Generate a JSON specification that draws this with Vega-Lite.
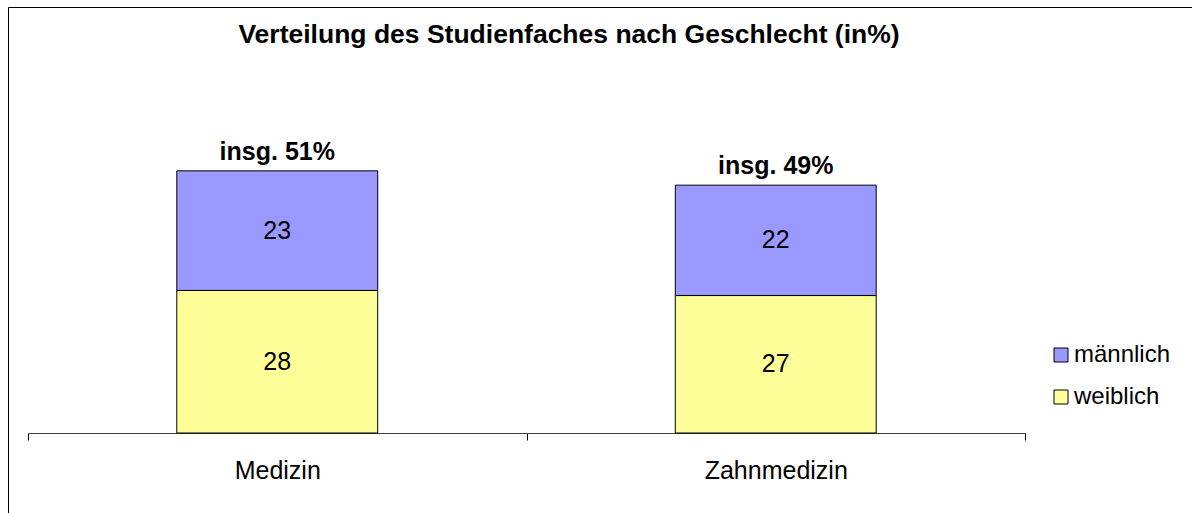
{
  "$schema": "https://vega.github.io/schema/vega-lite/v6.json",
  "width": 1194,
  "height": 516,
  "autosize": {"type": "none"},
  "padding": {"left": 8, "top": 7, "right": -10, "bottom": -10},
  "background": "white",
  "config": {
    "view": {"stroke": "#000", "strokeWidth": 1},
    "font": "Liberation Sans"
  },
  "title": {
    "text": "Verteilung des Studienfaches nach Geschlecht (in%)",
    "font": "Liberation Sans",
    "fontSize": 26.5,
    "fontWeight": "bold",
    "color": "#000",
    "anchor": "middle",
    "dx": -36,
    "offset": -62,
    "baseline": "alphabetic"
  },
  "data": {
    "values": [
      {"Fach": "Medizin", "Geschlecht": "weiblich", "Anteil": 27.9},
      {"Fach": "Medizin", "Geschlecht": "männlich", "Anteil": 23.4},
      {"Fach": "Zahnmedizin", "Geschlecht": "weiblich", "Anteil": 26.9},
      {"Fach": "Zahnmedizin", "Geschlecht": "männlich", "Anteil": 21.6}
    ]
  },
  "encoding": {
    "x": {
      "field": "Fach",
      "type": "nominal",
      "scale": {"range": [20, 1017], "paddingInner": 0, "paddingOuter": 0},
      "axis": {
        "title": null,
        "labelAngle": 0,
        "labelFont": "Liberation Sans",
        "labelFontSize": 25,
        "labelColor": "#000",
        "labelPadding": 18,
        "tickSize": 7,
        "tickColor": "#000",
        "domainColor": "#404040",
        "tickBand": "extent",
        "offset": -90,
        "grid": false
      }
    }
  },
  "layer": [
    {
      "transform": [
        {"stack": "Anteil", "groupby": ["Fach"], "sort": [{"field": "Geschlecht", "order": "descending"}], "as": ["y0", "y1"]}
      ],
      "layer": [
        {
          "mark": {"type": "bar", "stroke": "#000", "strokeWidth": 1, "width": {"band": 0.403}},
          "encoding": {
            "y": {"field": "y0", "type": "quantitative", "scale": {"domain": [0, 50], "range": [426, 170.5], "nice": false}, "axis": null},
            "y2": {"field": "y1"},
            "color": {
              "field": "Geschlecht",
              "type": "nominal",
              "scale": {"domain": ["männlich", "weiblich"], "range": ["#9999FF", "#FFFF99"]},
              "legend": {
                "title": null,
                "orient": "none",
                "legendX": 1041,
                "legendY": 336,
                "symbolType": "square",
                "symbolSize": 196,
                "symbolStrokeColor": "#000",
                "symbolStrokeWidth": 1,
                "labelFont": "Liberation Sans",
                "labelFontSize": 24,
                "labelColor": "#000",
                "labelOffset": 1,
                "rowPadding": 18
              }
            }
          }
        },
        {
          "transform": [{"calculate": "(datum.y0 + datum.y1) / 2", "as": "mid"}],
          "mark": {"type": "text", "fontSize": 25, "baseline": "middle", "color": "#000", "font": "Liberation Sans"},
          "encoding": {
            "y": {"field": "mid", "type": "quantitative", "scale": {"domain": [0, 50], "range": [426, 170.5], "nice": false}, "axis": null},
            "text": {"field": "Anteil", "type": "quantitative", "format": ".0f"}
          }
        }
      ]
    },
    {
      "transform": [
        {"aggregate": [{"op": "sum", "field": "Anteil", "as": "Summe"}], "groupby": ["Fach"]},
        {"calculate": "'insg. ' + format(datum.Summe, '.0f') + '%'", "as": "label"}
      ],
      "mark": {"type": "text", "fontSize": 25, "fontWeight": "bold", "baseline": "alphabetic", "dy": -11, "color": "#000", "font": "Liberation Sans"},
      "encoding": {
        "y": {"field": "Summe", "type": "quantitative", "scale": {"domain": [0, 50], "range": [426, 170.5], "nice": false}, "axis": null},
        "text": {"field": "label", "type": "nominal"}
      }
    }
  ]
}
